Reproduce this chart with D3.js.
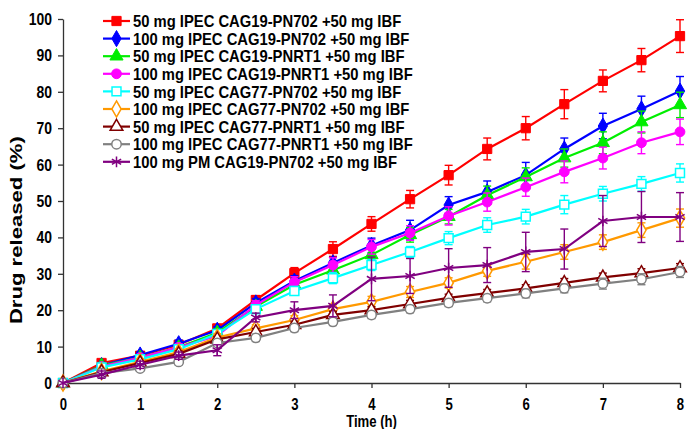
<!DOCTYPE html>
<html>
<head>
<meta charset="utf-8">
<script src="https://cdn.jsdelivr.net/npm/d3@7/dist/d3.min.js"></script>
<style>
  body { margin: 0; background: #fff; }
  svg { display: block; }
  text { font-family: "Liberation Sans", Arial, sans-serif; font-weight: bold; fill: #000; }
</style>
</head>
<body>
<svg id="chart" width="694" height="429"></svg>
<script>
// time points (h)
const time = [0, 0.5, 1, 1.5, 2, 2.5, 3, 3.5, 4, 4.5, 5, 5.5, 6, 6.5, 7, 7.5, 8];

// mean drug release (%) per formulation
const ipec50_19_702  = [0, 5.5, 7.5, 10.5, 15, 22.8, 30.2, 36.8, 43.7, 50.5, 57.1, 64.3, 70, 76.6, 83, 88.7, 95.3];
const ipec100_19_702 = [0, 4.8, 7.7, 10.8, 14.5, 22, 28, 33, 37.8, 42, 48.9, 52.5, 57.1, 64.3, 70.6, 75.3, 80.2];
const ipec50_19_rt1  = [0, 4.8, 7, 9.8, 13.8, 21, 27, 31, 35.2, 40.7, 45.7, 51.6, 56.6, 61.8, 66, 71.7, 76.4];
const ipec100_19_rt1 = [0, 4.5, 7, 9.8, 13, 21.4, 27.7, 32.4, 37.4, 41.2, 45.9, 49.7, 53.8, 58, 61.8, 66, 69];
const ipec50_77_702  = [0, 4.3, 6.5, 9.3, 13.5, 20.3, 25.3, 28.8, 32.4, 36, 39.8, 43.4, 45.7, 49, 52, 54.7, 57.7];
const ipec100_77_702 = [0, 3.2, 5.8, 8.5, 12.5, 15, 17.3, 20.3, 22.3, 25, 27.5, 30.8, 33.3, 36, 38.7, 42, 45.3];
const ipec50_77_rt1  = [0, 3, 5.5, 8, 12, 14, 16, 18.7, 20, 21.7, 23.4, 24.7, 26, 27.5, 29, 30.2, 31.6];
const ipec100_77_rt1 = [0, 2.7, 4, 5.8, 11, 12.4, 15.1, 16.8, 18.7, 20.3, 22, 23.3, 24.6, 26, 27.3, 28.5, 30.5];
const pm100_19_702   = [0, 2.3, 5, 7.5, 9, 18, 20, 21.2, 28.6, 29.4, 31.6, 32.4, 36, 36.8, 44.5, 45.6, 45.6];

// standard deviations (error bars)
const sd50_19_702  = [0, 0.8, 1, 1, 1, 1.2, 1.5, 2, 2, 2.4, 2.7, 3, 3.2, 4, 3, 3.2, 4.5];
const sd100_19_702 = [0, 0.8, 0.8, 1, 1, 1.2, 1.5, 1.5, 2, 2.7, 2.3, 3, 3.5, 3, 3.5, 3.5, 4];
const sd50_19_rt1  = [0, 0.8, 0.8, 1, 1, 1, 1.5, 1.5, 1.5, 2, 2, 2.5, 2.5, 2.5, 3, 3, 3.5];
const sd100_19_rt1 = [0, 0.8, 0.8, 1, 1, 1.2, 1.5, 2, 2, 2, 2.5, 2.5, 2.5, 3, 3, 3, 3.5];
const sd50_77_702  = [0, 0.8, 0.8, 1, 1, 1.2, 1.2, 1.5, 1.5, 1.5, 1.8, 2, 2, 2.5, 2, 2, 2.5];
const sd100_77_702 = [0, 0.5, 0.8, 0.8, 1, 1, 1.2, 1.2, 1.5, 1.5, 1.4, 1.5, 2, 2, 2, 2, 2.5];
const sd50_77_rt1  = [0, 0.5, 0.5, 0.8, 0.8, 1, 1, 1, 1, 1, 1, 1, 1, 1.2, 1.2, 1.2, 1.2];
const sd100_77_rt1 = [0, 0.5, 0.5, 0.8, 0.8, 1, 1, 1, 1, 1, 1, 1, 1.2, 1.2, 1.5, 1.5, 1.5];
const sdPm         = [0, 1, 1, 1, 1.5, 1.2, 2.3, 3, 6, 4.8, 5.3, 4.8, 5.4, 5.5, 7, 7, 6.7];

const labels = [
  '50 mg IPEC CAG19-PN702 +50 mg IBF',
  '100 mg IPEC CAG19-PN702 +50 mg IBF',
  '50 mg IPEC CAG19-PNRT1 +50 mg IBF',
  '100 mg IPEC CAG19-PNRT1 +50 mg IBF',
  '50 mg IPEC CAG77-PN702 +50 mg IBF',
  '100 mg IPEC CAG77-PN702 +50 mg IBF',
  '50 mg IPEC CAG77-PNRT1 +50 mg IBF',
  '100 mg IPEC CAG77-PNRT1 +50 mg IBF',
  '100 mg PM CAG19-PN702 +50 mg IBF'
];
const colors = ['#ff0000', '#0000ff', '#00ee00', '#ff00ff', '#00ffff', '#ff9900', '#800000', '#808080', '#800080'];
const xTicks = [0, 1, 2, 3, 4, 5, 6, 7, 8];
const yTicks = [0, 10, 20, 30, 40, 50, 60, 70, 80, 90, 100];

const means = [ipec50_19_702, ipec100_19_702, ipec50_19_rt1, ipec100_19_rt1, ipec50_77_702, ipec100_77_702, ipec50_77_rt1, ipec100_77_rt1, pm100_19_702];
const sds = [sd50_19_702, sd100_19_702, sd50_19_rt1, sd100_19_rt1, sd50_77_702, sd100_77_702, sd50_77_rt1, sd100_77_rt1, sdPm];

// marker style per series
const shapes = [d3.symbolSquare, d3.symbolDiamond, d3.symbolTriangle, d3.symbolCircle, d3.symbolSquare, d3.symbolDiamond, d3.symbolTriangle, d3.symbolCircle, d3.symbolAsterisk];
const sizes = [85, 75, 75, 75, 80, 75, 70, 70, 80];
const filled = [true, true, true, true, false, false, false, false, true];

const series = labels.map((name, i) => ({
  name, color: colors[i], shape: shapes[i], size: sizes[i], filled: filled[i],
  values: time.map((t, j) => ({ t, y: means[i][j], sd: sds[i][j] }))
}));

// the original figure uses a narrow bold face; squeeze the glyphs horizontally
const squeeze = 0.82;

const margin = { top: 19, right: 14, bottom: 46, left: 63 };
const width = 694 - margin.left - margin.right;
const height = 429 - margin.top - margin.bottom;

const svg = d3.select('#chart');
const g = svg.append('g').attr('transform', `translate(${margin.left},${margin.top})`);

const x = d3.scaleLinear().domain([0, 8]).range([0, width]);
const y = d3.scaleLinear().domain([0, 100]).range([height, 0]);

// axes
const xAxis = g.append('g').attr('transform', `translate(0,${height})`)
  .call(d3.axisBottom(x).tickValues(xTicks).tickSize(5).tickSizeOuter(0).tickPadding(11));
const yAxis = g.append('g')
  .call(d3.axisLeft(y).tickValues(yTicks).tickSize(5).tickSizeOuter(0));
[xAxis, yAxis].forEach(a => {
  a.attr('font-family', null).attr('font-size', null);
  a.select('.domain').attr('stroke', '#333').attr('stroke-width', 1.3);
  a.selectAll('.tick line').attr('stroke', '#333').attr('stroke-width', 1.3);
  a.selectAll('.tick text').attr('font-size', 17).attr('fill', '#000')
    .attr('transform', `scale(${squeeze},1)`);
});
xAxis.selectAll('.tick text').attr('font-size', 16);
yAxis.selectAll('.tick text').attr('x', -11 / squeeze);

// axis titles
svg.append('text')
  .attr('transform', `translate(${margin.left + x(4)},427) scale(${squeeze},1)`)
  .attr('text-anchor', 'middle')
  .attr('font-size', 16)
  .text('Time (h)');

svg.append('text')
  .attr('transform', `translate(22,${margin.top + y(42)}) rotate(-90)`)
  .attr('text-anchor', 'middle')
  .attr('font-size', 16)
  .attr('textLength', 188)
  .attr('lengthAdjust', 'spacingAndGlyphs')
  .text('Drug released  (%)');

const line = d3.line().x(d => x(d.t)).y(d => y(d.y));

// series, drawn in legend order
const sg = g.selectAll('g.series').data(series).enter().append('g').classed('series', true);

// error bars
sg.each(function (s) {
  const eb = d3.select(this).selectAll('g.err').data(s.values.filter(d => d.sd > 0)).enter()
    .append('g').classed('err', true).attr('stroke', s.color).attr('stroke-width', 1.4);
  eb.append('line').attr('x1', d => x(d.t)).attr('x2', d => x(d.t))
    .attr('y1', d => y(d.y + d.sd)).attr('y2', d => y(d.y - d.sd));
  eb.append('line').attr('x1', d => x(d.t) - 4).attr('x2', d => x(d.t) + 4)
    .attr('y1', d => y(d.y + d.sd)).attr('y2', d => y(d.y + d.sd));
  eb.append('line').attr('x1', d => x(d.t) - 4).attr('x2', d => x(d.t) + 4)
    .attr('y1', d => y(d.y - d.sd)).attr('y2', d => y(d.y - d.sd));
});

sg.append('path')
  .attr('d', s => line(s.values))
  .attr('fill', 'none')
  .attr('stroke', s => s.color)
  .attr('stroke-width', 2.2);

function drawMarker(sel, s) {
  sel.attr('d', d3.symbol().type(s.shape).size(s.size))
    .attr('fill', s.shape === d3.symbolAsterisk ? 'none' : (s.filled ? s.color : '#fff'))
    .attr('stroke', s.color)
    .attr('stroke-width', s.filled && s.shape !== d3.symbolAsterisk ? 1 : 1.5);
}

sg.each(function (s) {
  d3.select(this).selectAll('path.mk').data(s.values).enter().append('path').classed('mk', true)
    .attr('transform', d => `translate(${x(d.t)},${y(d.y)})`)
    .call(drawMarker, s);
});

// legend
const legend = svg.append('g').attr('transform', 'translate(103,21)');
const rows = legend.selectAll('g').data(series).enter().append('g')
  .attr('transform', (d, i) => `translate(0,${i * 17.6})`);
rows.append('line').attr('x1', 0).attr('x2', 27).attr('y1', 0).attr('y2', 0)
  .attr('stroke', d => d.color).attr('stroke-width', 2.2);
rows.append('path').attr('transform', 'translate(13.5,0)').each(function (s) { d3.select(this).call(drawMarker, s); });
rows.append('text')
  .attr('transform', 'translate(30,0) scale(0.87,1)')
  .attr('dy', '0.36em').attr('font-size', 17).text(d => d.name);
</script>
</body>
</html>
